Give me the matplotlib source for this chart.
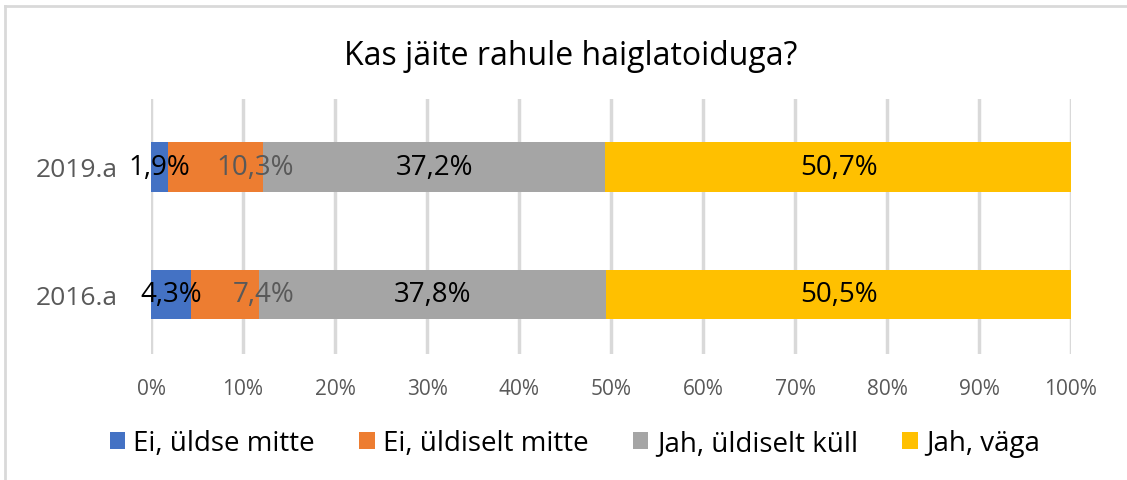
import matplotlib.pyplot as plt
from matplotlib.patches import Patch
import matplotlib.lines as mlines

# Survey answers per year (shares in %)
years = ['2016.a', '2019.a']
categories = ['Ei, üldse mitte', 'Ei, üldiselt mitte', 'Jah, üldiselt küll', 'Jah, väga']
values = {
    'Ei, üldse mitte': [4.3, 1.9],
    'Ei, üldiselt mitte': [7.4, 10.3],
    'Jah, üldiselt küll': [37.8, 37.2],
    'Jah, väga': [50.5, 50.7],
}
xticks = [0, 10, 20, 30, 40, 50, 60, 70, 80, 90, 100]

COLORS = {
    'Ei, üldse mitte': '#4472c4',
    'Ei, üldiselt mitte': '#ed7d31',
    'Jah, üldiselt küll': '#a5a5a5',
    'Jah, väga': '#ffc000',
}
LABEL_COLORS = {
    'Ei, üldse mitte': '#000000',
    'Ei, üldiselt mitte': '#595959',
    'Jah, üldiselt küll': '#000000',
    'Jah, väga': '#000000',
}
# horizontal nudge of the value labels, in points
LABEL_SHIFT = {
    'Ei, üldse mitte': 0,
    'Ei, üldiselt mitte': 28,
    'Jah, üldiselt küll': 0,
    'Jah, väga': 0,
}

plt.rcParams['font.family'] = ['Open Sans', 'DejaVu Sans']

fig = plt.figure(figsize=(11.27, 4.81), dpi=100, facecolor='white')
ax = fig.add_axes([151 / 1127, 1 - 355 / 481, 920 / 1127, 255 / 481])

ypos = list(range(len(years)))
left = [0.0] * len(years)
for cat in categories:
    vals = values[cat]
    ax.barh(ypos, vals, left=left, height=0.385, color=COLORS[cat],
            label=cat, zorder=3)
    for y, l, v in zip(ypos, left, vals):
        ax.annotate(f'{v:.1f}%'.replace('.', ','), (l + v / 2, y),
                    xytext=(LABEL_SHIFT[cat], 0), textcoords='offset points',
                    ha='center', va='center', fontsize=20,
                    color=LABEL_COLORS[cat], zorder=5)
    left = [a + b for a, b in zip(left, vals)]

ax.set_xlim(0, 100)
ax.set_ylim(-0.467, 1.533)
ax.set_xticks(xticks)
ax.set_xticklabels([f'{t}%' for t in xticks], fontsize=15, color='#595959')
ax.set_yticks(ypos)
ax.set_yticklabels(years, fontsize=19, color='#595959')
ax.tick_params(axis='both', length=0)
ax.tick_params(axis='x', pad=17)
ax.tick_params(axis='y', pad=24)
ax.grid(axis='x', color='#d9d9d9', linewidth=2.5, zorder=0)
for spine in ax.spines.values():
    spine.set_visible(False)

fig.text(0.506, 1 - 57 / 481, 'Kas jäite rahule haiglatoiduga?',
         ha='center', va='center', fontsize=23, color='#000000')

handles = [Patch(facecolor=COLORS[c], label=c) for c in categories]
fig.legend(handles=handles, loc='center', bbox_to_anchor=(0.51, 1 - 444 / 481),
           ncol=4, frameon=False, fontsize=20, handlelength=0.55,
           handleheight=0.55, handletextpad=0.3, columnspacing=1.6)

# light frame along the top and left edge
fig.add_artist(mlines.Line2D([5 / 1127, 5 / 1127], [0, 1 - 7 / 481],
                             transform=fig.transFigure, color='#d9d9d9', lw=2))
fig.add_artist(mlines.Line2D([5 / 1127, 1], [1 - 7 / 481, 1 - 7 / 481],
                             transform=fig.transFigure, color='#d9d9d9', lw=2))

fig.savefig('out.png', dpi=100, facecolor='white')
